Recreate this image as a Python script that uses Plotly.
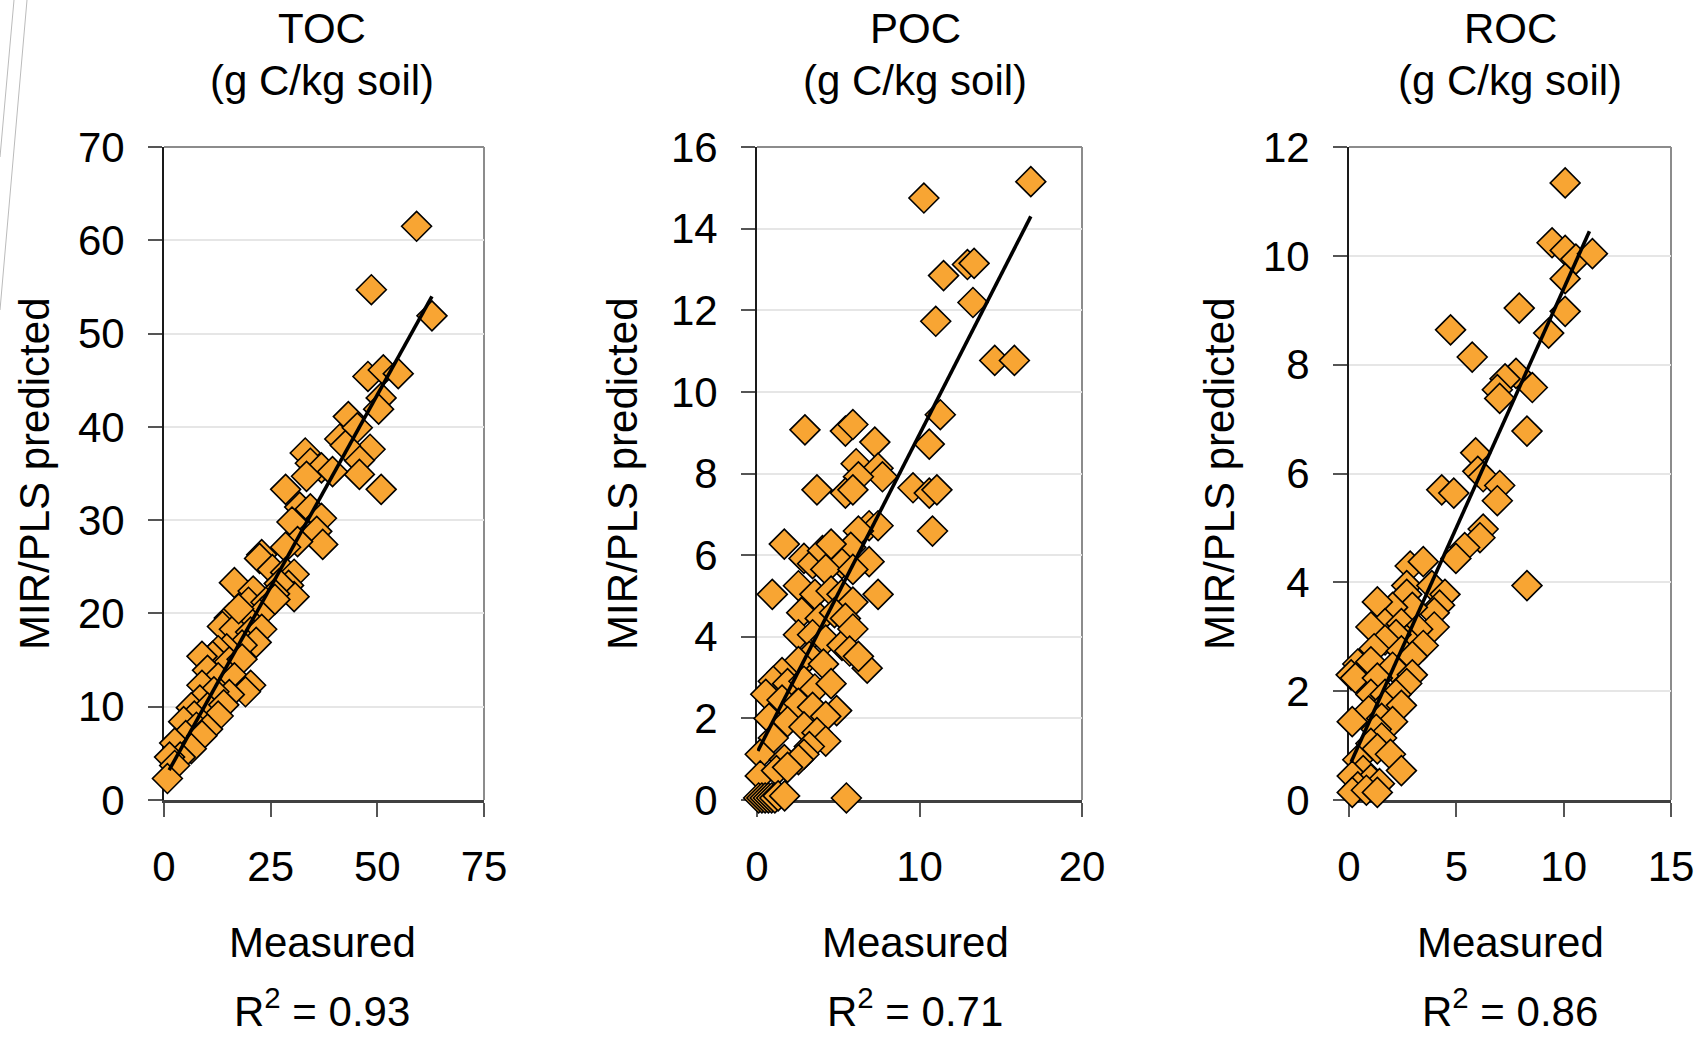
import plotly.graph_objects as go

# ---------------- data ----------------
toc_meas = [59.2, 48.6, 62.8, 47.8, 51.4, 54.9, 50.9, 50.3, 43.2, 41.2, 45.3, 48.3, 45.8, 45.8, 50.9,
            33.1, 34.3, 36.9, 33.4, 28.5, 31.8, 34.3, 36.9, 35.8, 37.2, 30.0, 31.3, 28.5, 22.9, 22.4,
            25.4, 28.5, 30.5, 29.2, 30.5, 27.0, 25.9, 16.5, 20.9, 19.8, 23.9, 22.9, 19.3, 15.3, 13.7,
            16.5, 20.3, 22.9, 21.6, 18.3, 14.7, 12.7, 11.4, 8.9, 15.3, 18.3, 10.2, 12.7, 16.5, 20.3,
            19.1, 15.3, 8.9, 11.7, 8.4, 6.4, 10.2, 14.0, 12.7, 7.1, 4.6, 7.6, 10.2, 5.1, 8.9,
            2.5, 6.4, 3.8, 1.3, 2.5, 0.8, 39.5, 42.5, 17.5, 26.0]
toc_pred = [61.5, 54.7, 51.9, 45.4, 46.1, 45.7, 43.1, 41.9, 41.1, 38.7, 39.9, 37.6, 36.4, 34.9, 33.3,
            37.2, 36.1, 35.6, 34.7, 33.3, 31.4, 31.2, 30.2, 28.8, 27.4, 29.8, 27.7, 27.1, 26.3, 25.9,
            24.7, 24.4, 24.2, 23.0, 21.8, 23.2, 22.1, 23.3, 22.4, 21.2, 21.2, 20.1, 19.5, 19.5, 18.6,
            18.3, 18.0, 18.3, 16.9, 16.6, 16.2, 16.0, 15.4, 15.4, 14.8, 15.1, 13.9, 13.1, 13.1, 12.3,
            11.6, 11.3, 12.3, 11.6, 10.7, 9.9, 9.9, 10.2, 9.0, 9.0, 8.4, 7.8, 7.6, 6.9, 6.9,
            6.1, 5.5, 4.6, 4.6, 3.7, 2.3, 35.2, 38.0, 20.5, 21.5]
toc_fit_x = [1.2, 62.8]
toc_fit_y = [3.2, 54.0]

poc_meas = [16.85, 10.27, 12.95, 13.36, 11.48, 13.29, 11.0, 14.63, 15.84, 11.28, 10.6, 9.6, 10.6, 11.07,
            10.8, 2.95, 5.44, 5.9, 7.25, 6.1, 7.45, 7.72, 6.24, 3.69, 5.44, 5.9, 6.9, 7.45, 6.24, 5.77,
            6.9, 7.45, 6.78, 1.68, 2.89, 3.42, 4.03, 4.56, 5.23, 4.23, 5.9, 0.94, 2.55, 3.56, 4.56,
            5.23, 5.9, 2.75, 3.89, 4.77, 5.44, 2.55, 3.42, 4.23, 5.23, 5.9, 5.7, 6.24, 3.22, 2.55,
            4.09, 1.54, 1.0, 1.88, 2.89, 3.56, 4.56, 0.54, 1.54, 2.55, 3.42, 4.9, 4.23, 0.74, 1.88,
            2.89, 3.69, 4.23, 3.22, 2.89, 1.0, 0.2, 1.68, 2.55, 0.2, 1.2, 1.88,
            0.1, 0.3, 0.5, 0.7, 0.9, 1.1, 1.3, 1.7, 5.5]
poc_pred = [15.15, 14.75, 13.12, 13.15, 12.85, 12.19, 11.73, 10.77, 10.77, 9.44, 8.72, 7.65, 7.52, 7.6,
            6.59, 9.07, 9.04, 9.2, 8.77, 8.24, 8.13, 7.92, 7.92, 7.6, 7.52, 7.6, 6.72, 6.72, 6.59, 6.19,
            5.84, 5.04, 3.23, 6.27, 5.92, 5.79, 6.11, 6.27, 5.79, 5.65, 5.65, 5.04, 5.25, 5.04, 5.12,
            5.04, 4.85, 4.59, 4.45, 4.59, 4.45, 4.05, 4.05, 3.92, 3.79, 4.19, 3.65, 3.52, 3.52, 3.39,
            3.33, 3.12, 2.91, 2.85, 2.91, 2.72, 2.85, 2.59, 2.45, 2.37, 2.27, 2.19, 2.05, 2.0, 1.92,
            1.79, 1.65, 1.44, 1.31, 1.12, 1.52, 1.12, 0.99, 0.99, 0.59, 0.72, 0.8,
            0.05, 0.05, 0.05, 0.05, 0.05, 0.05, 0.1, 0.1, 0.05]
poc_fit_x = [0.05, 16.85]
poc_fit_y = [1.2, 14.3]

roc_meas = [10.07, 9.46, 10.07, 10.57, 11.34, 10.07, 10.07, 9.3, 4.73, 5.74, 7.93, 7.78, 7.27, 8.54,
            6.91, 7.02, 8.29, 5.9, 6.0, 6.25, 7.02, 6.91, 4.32, 4.88, 6.25, 6.1, 5.39, 4.98, 8.29,
            2.85, 3.46, 2.69, 3.86, 4.47, 4.22, 3.97, 3.97, 2.69, 2.95, 2.03, 1.32, 1.68, 1.02, 2.44,
            3.2, 2.69, 2.19, 3.46, 1.68, 1.17, 2.44, 2.95, 0.41, 1.02, 2.03, 2.95, 2.69, 0.1, 0.3,
            1.32, 1.02, 1.68, 2.19, 1.68, 2.44, 0.92, 1.52, 2.03, 0.15, 1.27, 1.52, 1.02, 1.32, 1.93,
            2.44, 0.41, 0.66, 0.15, 1.02, 1.42, 0.41, 0.15, 0.81, 1.32]
roc_pred = [11.34, 10.24, 10.1, 9.94, 10.04, 9.58, 8.98, 8.58, 8.64, 8.14, 9.04, 7.84, 7.74, 7.58,
            7.54, 7.38, 6.78, 6.38, 6.04, 5.94, 5.78, 5.5, 5.7, 5.64, 4.98, 4.82, 4.64, 4.44, 3.94,
            4.3, 4.38, 3.94, 3.94, 3.78, 3.58, 3.44, 3.18, 3.78, 3.54, 3.54, 3.64, 3.24, 3.18, 3.24,
            3.14, 2.94, 3.04, 2.84, 2.94, 2.78, 2.74, 2.64, 2.5, 2.54, 2.44, 2.3, 2.14, 2.3, 2.24,
            2.24, 1.94, 1.94, 1.94, 1.74, 1.74, 1.64, 1.5, 1.44, 1.44, 1.3, 1.14, 1.04, 0.94, 0.84,
            0.54, 0.74, 0.54, 0.44, 0.38, 0.3, 0.24, 0.14, 0.18, 0.14]
roc_fit_x = [0.1, 11.2]
roc_fit_y = [0.7, 10.45]

titles = ["TOC", "POC", "ROC"]
unit_label = "(g C/kg soil)"
r2_values = ["0.93", "0.71", "0.86"]
x_ranges = [[0, 75], [0, 20], [0, 15]]
x_dticks = [25, 10, 5]
y_ranges = [[0, 70], [0, 16], [0, 12]]
y_dticks = [10, 2, 2]
y_title = "MIR/PLS predicted"
x_title = "Measured"

# ---------------- layout geometry (pixels) ----------------
W, H = 1702, 1037
panel_px = [(164, 484), (757, 1082), (1349, 1671)]
text_cx_px = [322, 915, 1510]
top_px, bot_px = 147, 800
ytitle_px = [34, 622, 1219]

FONT = "Liberation Sans, Arial, sans-serif"
FS = 42
ORANGE = "#F8A533"

def px(x):
    return x / W

def py(y):
    return 1 - y / H

fig = go.Figure()
series = [(toc_meas, toc_pred, toc_fit_x, toc_fit_y),
          (poc_meas, poc_pred, poc_fit_x, poc_fit_y),
          (roc_meas, roc_pred, roc_fit_x, roc_fit_y)]

annotations = []
shapes = []
for i, (mx, my, fx, fy) in enumerate(series):
    sfx = "" if i == 0 else str(i + 1)
    xa, ya = "x" + sfx, "y" + sfx
    fig.add_trace(go.Scatter(x=mx, y=my, mode="markers", xaxis=xa, yaxis=ya,
                             cliponaxis=False, showlegend=False,
                             marker=dict(symbol="diamond", size=23, color=ORANGE,
                                         line=dict(color="black", width=1.6))))
    fig.add_trace(go.Scatter(x=fx, y=fy, mode="lines", xaxis=xa, yaxis=ya,
                             cliponaxis=False, showlegend=False,
                             line=dict(color="black", width=3.6)))
    l, r = panel_px[i]
    axis_common = dict(ticks="outside", ticklen=14, tickwidth=2, tickcolor="#555555",
                       tickfont=dict(family=FONT, size=FS, color="black"),
                       showline=True, zeroline=False, layer="below traces",
                       fixedrange=True, automargin=False)
    fig.update_layout(**{
        "xaxis" + sfx: dict(domain=[px(l), px(r)], anchor=ya, range=x_ranges[i],
                            dtick=x_dticks[i], tick0=0, showgrid=False,
                            linecolor="#404040", linewidth=3, ticklabelstandoff=14,
                            **axis_common),
        "yaxis" + sfx: dict(domain=[py(bot_px), py(top_px)], anchor=xa, range=y_ranges[i],
                            dtick=y_dticks[i], tick0=0, showgrid=True,
                            gridcolor="#E6E6E6", gridwidth=1.5,
                            linecolor="#1a1a1a", linewidth=2, ticklabelstandoff=15,
                            **axis_common),
    })
    # top & right plot-area border (gray)
    for (x0, y0, x1, y1) in [(0, 1, 1, 1), (1, 0, 1, 1)]:
        shapes.append(dict(type="line", xref=xa + " domain", yref=ya + " domain",
                           x0=x0, y0=y0, x1=x1, y1=y1, layer="below",
                           line=dict(color="#8C8C8C", width=2)))
    cx = px(text_cx_px[i])
    text_font = dict(family=FONT, size=FS, color="black")
    annotations += [
        dict(text=titles[i], x=cx, y=py(28), xref="paper", yref="paper",
             xanchor="center", yanchor="middle", showarrow=False, font=text_font),
        dict(text=unit_label, x=cx, y=py(80), xref="paper", yref="paper",
             xanchor="center", yanchor="middle", showarrow=False, font=text_font),
        dict(text=x_title, x=cx, y=py(942), xref="paper", yref="paper",
             xanchor="center", yanchor="middle", showarrow=False, font=text_font),
        dict(text="R<sup>2</sup> = " + r2_values[i], x=cx, y=py(1008), xref="paper",
             yref="paper", xanchor="center", yanchor="middle", showarrow=False,
             font=text_font),
        dict(text=y_title, x=px(ytitle_px[i]), y=py(474), xref="paper", yref="paper",
             xanchor="center", yanchor="middle", textangle=-90, showarrow=False,
             font=text_font),
    ]

# decorative slide lines at top-left
for (x0, y0, x1, y1) in [(14, 0, 0, 157), (27, 0, 0, 310)]:
    shapes.append(dict(type="line", xref="paper", yref="paper",
                       x0=px(x0), y0=py(y0), x1=px(x1), y1=py(y1),
                       line=dict(color="#BBBBBB", width=1)))

fig.update_layout(width=W, height=H, autosize=False,
                  margin=dict(l=0, r=0, t=0, b=0, pad=0, autoexpand=False),
                  paper_bgcolor="white", plot_bgcolor="white",
                  annotations=annotations, shapes=shapes, showlegend=False)

fig.write_html("out.html", config={"displayModeBar": False})
